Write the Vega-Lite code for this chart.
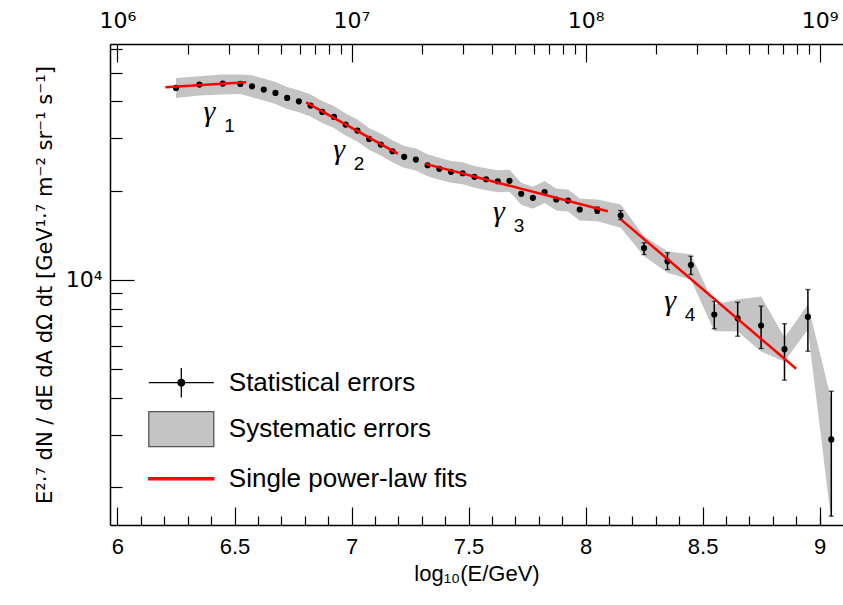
{
  "$schema": "https://vega.github.io/schema/vega-lite/v6.json",
  "width": 733,
  "height": 481,
  "autosize": {"type": "none"},
  "padding": {"left": 110, "top": 44, "right": 0, "bottom": 80},
  "background": "white",
  "config": {
    "view": {"stroke": null},
    "font": "Liberation Sans",
    "axis": {
      "grid": false,
      "domainColor": "black",
      "domainWidth": 1.5,
      "tickColor": "black",
      "tickWidth": 1.2,
      "labelColor": "black",
      "titleColor": "black",
      "labelFont": "Liberation Sans",
      "titleFont": "Liberation Sans",
      "labelFontSize": 22,
      "titleFontSize": 22,
      "titleFontWeight": "normal",
      "labelFlush": false,
      "labelOverlap": false,
      "labelBound": false
    },
    "legend": {
      "orient": "none",
      "legendX": 46.3,
      "legendY": 313.7,
      "title": null,
      "symbolSize": 2304,
      "labelOffset": 22.5,
      "rowPadding": 3.5,
      "padding": 0,
      "labelFontSize": 26,
      "labelFont": "Liberation Sans",
      "labelColor": "black",
      "labelLimit": 400,
      "symbolStrokeWidth": 1.3,
      "symbolOpacity": 1
    }
  },
  "datasets": {
    "pts": [
      {"x": 6.25, "y": 44370}, {"x": 6.35, "y": 45520}, {"x": 6.45, "y": 45880},
      {"x": 6.525, "y": 45770}, {"x": 6.575, "y": 44930}, {"x": 6.625, "y": 43790},
      {"x": 6.675, "y": 42680}, {"x": 6.725, "y": 41060}, {"x": 6.775, "y": 39990},
      {"x": 6.825, "y": 38680}, {"x": 6.875, "y": 36830}, {"x": 6.925, "y": 35430},
      {"x": 6.975, "y": 33380}, {"x": 7.025, "y": 31860}, {"x": 7.075, "y": 29870},
      {"x": 7.125, "y": 28580}, {"x": 7.175, "y": 27130}, {"x": 7.225, "y": 25980},
      {"x": 7.275, "y": 25440}, {"x": 7.325, "y": 24340}, {"x": 7.375, "y": 23670},
      {"x": 7.425, "y": 23120}, {"x": 7.475, "y": 22870}, {"x": 7.525, "y": 22240},
      {"x": 7.575, "y": 21830}, {"x": 7.625, "y": 21500}, {"x": 7.675, "y": 21570},
      {"x": 7.725, "y": 19500}, {"x": 7.775, "y": 18900}, {"x": 7.825, "y": 19770},
      {"x": 7.875, "y": 18650}, {"x": 7.925, "y": 18500}, {"x": 7.975, "y": 17260},
      {"x": 8.05, "y": 17170, "lo": 16750, "hi": 17600},
      {"x": 8.15, "y": 16470, "lo": 15960, "hi": 17120},
      {"x": 8.25, "y": 12800, "lo": 12170, "hi": 13330},
      {"x": 8.35, "y": 11550, "lo": 10830, "hi": 12330},
      {"x": 8.45, "y": 11220, "lo": 10420, "hi": 12010},
      {"x": 8.55, "y": 7640, "lo": 6840, "hi": 8470},
      {"x": 8.65, "y": 7420, "lo": 6455, "hi": 8400},
      {"x": 8.75, "y": 7010, "lo": 5867, "hi": 8150},
      {"x": 8.85, "y": 5835, "lo": 4587, "hi": 7110},
      {"x": 8.95, "y": 7500, "lo": 5745, "hi": 9275},
      {"x": 9.05, "y": 2895, "lo": 1596, "hi": 4210}
    ],
    "band": [
      {"x": 6.25, "up": 47960, "low": 41060}, {"x": 6.35, "up": 48560, "low": 41800},
      {"x": 6.45, "up": 49200, "low": 42130}, {"x": 6.525, "up": 49200, "low": 42360},
      {"x": 6.575, "up": 48930, "low": 41260}, {"x": 6.625, "up": 47690, "low": 40210},
      {"x": 6.675, "up": 46480, "low": 39190}, {"x": 6.725, "up": 44710, "low": 37700},
      {"x": 6.775, "up": 43550, "low": 36720}, {"x": 6.825, "up": 42120, "low": 35520},
      {"x": 6.875, "up": 40110, "low": 33820}, {"x": 6.925, "up": 38580, "low": 32530},
      {"x": 6.975, "up": 36350, "low": 30650}, {"x": 7.025, "up": 34700, "low": 29260},
      {"x": 7.075, "up": 32530, "low": 27430}, {"x": 7.125, "up": 31120, "low": 26240},
      {"x": 7.175, "up": 29540, "low": 24910}, {"x": 7.225, "up": 28290, "low": 23860},
      {"x": 7.275, "up": 27700, "low": 23360}, {"x": 7.325, "up": 26510, "low": 22350},
      {"x": 7.375, "up": 25780, "low": 21740}, {"x": 7.425, "up": 25180, "low": 21230},
      {"x": 7.475, "up": 24910, "low": 21000}, {"x": 7.525, "up": 24220, "low": 20420},
      {"x": 7.575, "up": 23770, "low": 20050}, {"x": 7.625, "up": 23410, "low": 19740},
      {"x": 7.675, "up": 23490, "low": 19810}, {"x": 7.725, "up": 21240, "low": 17910},
      {"x": 7.775, "up": 20580, "low": 17360}, {"x": 7.825, "up": 21530, "low": 18150},
      {"x": 7.875, "up": 20310, "low": 17130}, {"x": 7.925, "up": 20150, "low": 16990},
      {"x": 7.975, "up": 18800, "low": 15850}, {"x": 8.05, "up": 18650, "low": 15760},
      {"x": 8.15, "up": 17940, "low": 14970}, {"x": 8.25, "up": 14030, "low": 12010},
      {"x": 8.35, "up": 12480, "low": 10560}, {"x": 8.45, "up": 12170, "low": 10020},
      {"x": 8.55, "up": 8255, "low": 6710}, {"x": 8.65, "up": 8580, "low": 6695},
      {"x": 8.75, "up": 8785, "low": 5730}, {"x": 8.85, "up": 6390, "low": 5305},
      {"x": 8.95, "up": 8255, "low": 6800}, {"x": 9.05, "up": 3950, "low": 1533}
    ],
    "fits": [
      {"fit": "g1", "x": 6.205, "y": 44580}, {"fit": "g1", "x": 6.55, "y": 46350},
      {"fit": "g2", "x": 6.806, "y": 39680}, {"fit": "g2", "x": 7.198, "y": 26650},
      {"fit": "g3", "x": 7.316, "y": 24600}, {"fit": "g3", "x": 8.095, "y": 17030},
      {"fit": "g4", "x": 8.152, "y": 15960}, {"fit": "g4", "x": 8.9, "y": 5012}
    ],
    "gam": [
      {"x": 6.393, "y": 34440, "n": "1"},
      {"x": 6.947, "y": 25640, "n": "2"},
      {"x": 7.630, "y": 15730, "n": "3"},
      {"x": 8.361, "y": 7880, "n": "4"}
    ],
    "leg": [
      {"kind": "Statistical errors"},
      {"kind": "Systematic errors"},
      {"kind": "Single power-law fits"}
    ]
  },
  "resolve": {"axis": {"x": "independent", "y": "independent"}},
  "layer": [
    {
      "data": {"name": "band"},
      "mark": {"type": "area", "color": "#c4c4c4", "opacity": 1},
      "encoding": {
        "x": {"field": "x", "type": "quantitative",
              "scale": {"domain": [5.968, 9.1], "nice": false, "zero": false},
              "axis": {"orient": "bottom", "values": [6, 6.5, 7, 7.5, 8, 8.5, 9], "format": "~g",
                       "tickSize": -18, "labelPadding": 29, "title": "log₁₀(E/GeV)", "titlePadding": 6}},
        "y": {"field": "up", "type": "quantitative",
              "scale": {"type": "log", "domain": [1490, 62400], "nice": false},
              "axis": {"orient": "left", "values": [10000], "labelExpr": "'10⁴'", "labelFontSize": 22, "labelFont": "DejaVu Sans",
                       "tickSize": -24, "labelPadding": 32,
                       "title": "E²·⁷ dN / dE dA dΩ dt  [GeV¹·⁷ m⁻² sr⁻¹ s⁻¹]", "titleFont": "DejaVu Sans", "titleFontSize": 21, "titlePadding": 10}},
        "y2": {"field": "low"}
      }
    },
    {
      "data": {"name": "pts"},
      "transform": [{"filter": "isValid(datum.lo)"}],
      "mark": {"type": "errorbar", "ticks": {"size": 5, "thickness": 1.3, "color": "black"}, "rule": {"strokeWidth": 1.5, "color": "black"}},
      "encoding": {
        "x": {"field": "x", "type": "quantitative",
              "scale": {"domain": [5.968, 9.1], "nice": false, "zero": false},
              "axis": {"orient": "top", "values": [6, 7, 8, 9],
                       "labelExpr": "datum.value == 6 ? '10⁶' : datum.value == 7 ? '10⁷' : datum.value == 8 ? '10⁸' : '10⁹'",
                       "labelFont": "DejaVu Sans", "labelFontSize": 22, "tickSize": -18, "labelPadding": 30, "title": null}},
        "y": {"field": "lo", "type": "quantitative",
              "scale": {"type": "log", "domain": [1490, 62400], "nice": false}, "axis": null},
        "y2": {"field": "hi"}
      }
    },
    {
      "data": {"name": "pts"},
      "mark": {"type": "circle", "size": 38, "color": "black", "opacity": 1},
      "encoding": {
        "x": {"field": "x", "type": "quantitative",
              "scale": {"domain": [5.968, 9.1], "nice": false, "zero": false},
              "axis": {"orient": "top", "domain": false, "labels": false, "title": null, "tickSize": -10,
                       "values": [6.30103, 6.47712, 6.60206, 6.69897, 6.77815, 6.8451, 6.90309, 6.95424,
                                  7.30103, 7.47712, 7.60206, 7.69897, 7.77815, 7.8451, 7.90309, 7.95424,
                                  8.30103, 8.47712, 8.60206, 8.69897, 8.77815, 8.8451, 8.90309, 8.95424]}},
        "y": {"field": "y", "type": "quantitative",
              "scale": {"type": "log", "domain": [1490, 62400], "nice": false}, "axis": null}
      }
    },
    {
      "data": {"name": "fits"},
      "mark": {"type": "line", "color": "#ff0000", "strokeWidth": 2.5},
      "encoding": {
        "x": {"field": "x", "type": "quantitative",
              "scale": {"domain": [5.968, 9.1], "nice": false, "zero": false},
              "axis": {"orient": "bottom", "domain": false, "labels": false, "title": null, "tickSize": -9,
                       "values": [6.1, 6.2, 6.3, 6.4, 6.6, 6.7, 6.8, 6.9, 7.1, 7.2, 7.3, 7.4, 7.6, 7.7, 7.8, 7.9,
                                  8.1, 8.2, 8.3, 8.4, 8.6, 8.7, 8.8, 8.9, 9.0]}},
        "y": {"field": "y", "type": "quantitative",
              "scale": {"type": "log", "domain": [1490, 62400], "nice": false},
              "axis": {"orient": "left", "domain": false, "labels": false, "title": null, "tickSize": -12,
                       "values": [2000, 3000, 4000, 5000, 6000, 7000, 8000, 9000, 20000, 30000, 40000, 50000, 60000]}},
        "detail": {"field": "fit"}
      }
    },
    {
      "data": {"name": "gam"},
      "mark": {"type": "text", "text": "γ", "font": "Liberation Serif", "fontStyle": "italic", "fontSize": 30, "align": "center", "baseline": "alphabetic", "color": "black"},
      "encoding": {
        "x": {"field": "x", "type": "quantitative", "scale": {"domain": [5.968, 9.1], "nice": false, "zero": false}, "axis": null},
        "y": {"field": "y", "type": "quantitative", "scale": {"type": "log", "domain": [1490, 62400], "nice": false}, "axis": null}
      }
    },
    {
      "data": {"name": "gam"},
      "mark": {"type": "text", "font": "Liberation Sans", "fontSize": 19, "align": "center", "baseline": "alphabetic", "dx": 20, "dy": 11, "color": "black"},
      "encoding": {
        "x": {"field": "x", "type": "quantitative", "scale": {"domain": [5.968, 9.1], "nice": false, "zero": false}, "axis": null},
        "y": {"field": "y", "type": "quantitative", "scale": {"type": "log", "domain": [1490, 62400], "nice": false}, "axis": null},
        "text": {"field": "n"}
      }
    },
    {
      "data": {"name": "leg"},
      "mark": {"type": "point", "opacity": 0, "strokeWidth": 1.3},
      "encoding": {
        "shape": {"field": "kind", "type": "nominal",
                  "scale": {"domain": ["Statistical errors", "Systematic errors", "Single power-law fits"],
                            "range": ["M-1.354,0H1.354M0,-0.6125V0.6125M0.14,0A0.14,0.14,0,1,1,-0.14,0A0.14,0.14,0,1,1,0.14,0Z",
                                      "M-1.354,-0.729H1.354V0.729H-1.354Z",
                                      "M-1.354,-0.045H1.354V0.045H-1.354Z"]},
                  "legend": {"title": null}},
        "fill": {"field": "kind", "type": "nominal",
                 "scale": {"domain": ["Statistical errors", "Systematic errors", "Single power-law fits"],
                           "range": ["#000000", "#c4c4c4", "#ff0000"]},
                 "legend": {"title": null}},
        "stroke": {"field": "kind", "type": "nominal",
                   "scale": {"domain": ["Statistical errors", "Systematic errors", "Single power-law fits"],
                             "range": ["#000000", "#555555", "#ff0000"]},
                   "legend": {"title": null}}
      }
    }
  ]
}
